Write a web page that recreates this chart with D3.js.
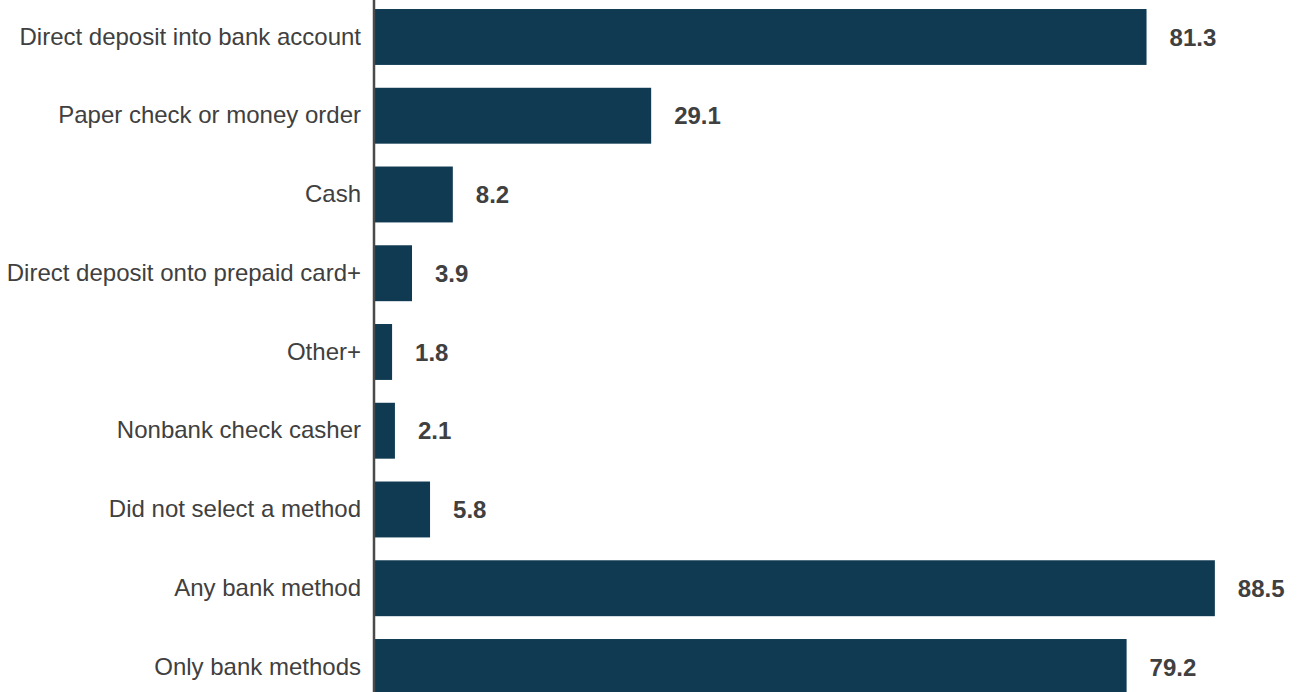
<!DOCTYPE html>
<html lang="en">

<head>
  <meta charset="UTF-8">
  <title>Payment Methods</title>
  <script src="https://d3js.org/d3.v7.min.js"></script>
  <style>
    body {
      margin: 0;
      background: #fff;
      overflow: hidden;
      font-family: "Liberation Sans", Arial, sans-serif;
    }
  </style>
</head>

<body>
  <div id="chart"></div>

  <script>
    const categories = [
      "Direct deposit into bank account",
      "Paper check or money order",
      "Cash",
      "Direct deposit onto prepaid card+",
      "Other+",
      "Nonbank check casher",
      "Did not select a method",
      "Any bank method",
      "Only bank methods"
    ];
    const values = [81.3, 29.1, 8.2, 3.9, 1.8, 2.1, 5.8, 88.5, 79.2];

    const width = 1297, height = 692;
    const left = 375;

    const svg = d3.select("#chart").append("svg")
      .attr("width", width)
      .attr("height", height);

    const x = d3.scaleLinear().domain([0, 100]).range([left, left + 949]);
    const y = d3.scaleBand()
      .domain(categories)
      .range([-2.4, -2.4 + 9 * 78.75])
      .paddingInner(0.29)
      .paddingOuter(0.145);

    svg.selectAll("rect.bar")
      .data(values)
      .enter().append("rect")
      .attr("class", "bar")
      .attr("x", x(0))
      .attr("y", (d, i) => y(categories[i]))
      .attr("width", d => x(d) - x(0))
      .attr("height", y.bandwidth())
      .attr("fill", "#0f3a52");

    // value labels
    svg.selectAll("text.val")
      .data(values)
      .enter().append("text")
      .attr("class", "val")
      .attr("x", d => x(d) + 23)
      .attr("y", (d, i) => y(categories[i]) + y.bandwidth() / 2)
      .attr("dy", "0.36em")
      .attr("font-size", "24px")
      .attr("font-weight", "bold")
      .attr("fill", "#404040")
      .text(d => d.toFixed(1));

    // category axis
    const axis = svg.append("g")
      .attr("transform", `translate(${left - 1},0)`)
      .call(d3.axisLeft(y).tickSize(0).tickPadding(13));
    axis.select(".domain").remove();
    axis.selectAll("text")
      .attr("font-size", "24px")
      .attr("font-family", "'Liberation Sans', Arial, sans-serif")
      .attr("fill", "#404040");

    svg.append("line")
      .attr("x1", left - 1).attr("x2", left - 1)
      .attr("y1", 0).attr("y2", height)
      .attr("stroke", "#4a4a4a")
      .attr("stroke-width", 2.5);
  </script>
</body>

</html>
